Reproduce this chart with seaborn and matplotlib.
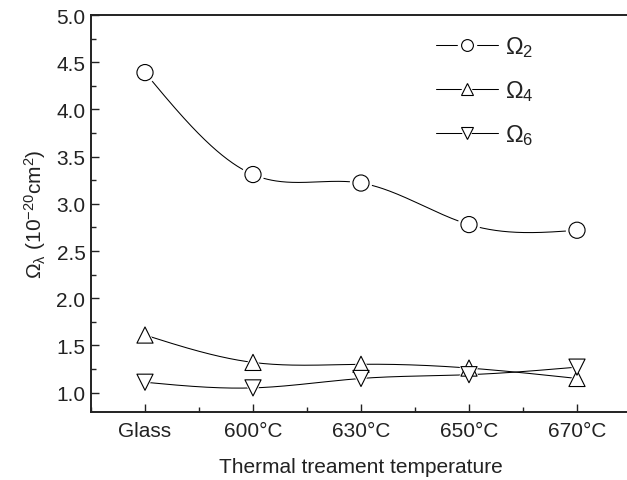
import numpy as np
import pandas as pd
import matplotlib
matplotlib.use("Agg")
import matplotlib.pyplot as plt
import seaborn as sns
from matplotlib.lines import Line2D
from matplotlib.legend_handler import HandlerTuple

categories = ["Glass", "600\u00b0C", "630\u00b0C", "650\u00b0C", "670\u00b0C"]
omega2 = [4.39, 3.31, 3.22, 2.78, 2.72]
omega4 = [1.61, 1.32, 1.30, 1.26, 1.15]
omega6 = [1.11, 1.05, 1.15, 1.19, 1.27]
series_names = [r"$\Omega_2$", r"$\Omega_4$", r"$\Omega_6$"]
series_values = [omega2, omega4, omega6]
series_markers = ["o", "^", "v"]

sns.set_theme(style="ticks")
plt.rcParams["font.family"] = ["Liberation Sans", "DejaVu Sans"]
plt.rcParams["mathtext.fontset"] = "custom"
plt.rcParams["mathtext.rm"] = "Liberation Sans"
plt.rcParams["mathtext.it"] = "Liberation Sans"
plt.rcParams["mathtext.bf"] = "Liberation Sans:bold"

INK = "#222222"


def natural_spline(x, y, xs):
    x = np.asarray(x, float)
    y = np.asarray(y, float)
    n = len(x)
    h = np.diff(x)
    A = np.zeros((n, n))
    b = np.zeros(n)
    A[0, 0] = 1
    A[-1, -1] = 1
    for i in range(1, n - 1):
        A[i, i - 1] = h[i - 1]
        A[i, i] = 2 * (h[i - 1] + h[i])
        A[i, i + 1] = h[i]
        b[i] = 3 * ((y[i + 1] - y[i]) / h[i] - (y[i] - y[i - 1]) / h[i - 1])
    c = np.linalg.solve(A, b)
    out = np.empty_like(xs)
    for k, xv in enumerate(xs):
        i = min(max(np.searchsorted(x, xv) - 1, 0), n - 2)
        dx = xv - x[i]
        bi = (y[i + 1] - y[i]) / h[i] - h[i] * (2 * c[i] + c[i + 1]) / 3
        di = (c[i + 1] - c[i]) / (3 * h[i])
        out[k] = y[i] + bi * dx + c[i] * dx ** 2 + di * dx ** 3
    return out


fig = plt.figure(figsize=(6.27, 4.81), dpi=100)
ax = fig.add_axes([91 / 627, 1 - 412.5 / 481, 540 / 627, (412.5 - 16) / 481])

xpos = np.arange(len(categories))
rows = []
for name, vals in zip(series_names, series_values):
    for xp, v in zip(xpos, vals):
        rows.append({"x": xp, "y": v, "series": name})
df = pd.DataFrame(rows)

xs = np.linspace(0, len(categories) - 1, 400)
for name, vals in zip(series_names, series_values):
    ys = natural_spline(xpos, vals, xs)
    sns.lineplot(x=xs, y=ys, ax=ax, color="black", lw=0.75, zorder=2, legend=False)

marker_map = dict(zip(series_names, series_markers))
# white halos create the small gaps between curves and markers
sns.scatterplot(data=df, x="x", y="y", style="series", markers=marker_map,
                s=260, color="white", edgecolor="white", linewidth=0, ax=ax,
                legend=False, zorder=3)
sns.scatterplot(data=df, x="x", y="y", style="series", markers=marker_map,
                s=135, facecolor="white", edgecolor="black", linewidth=0.8, ax=ax,
                legend=False, zorder=4)

ax.set_xlim(-0.5, 4.5)
ax.set_ylim(0.8, 5.0)
ax.set_xticks(xpos)
ax.set_xticklabels(categories)
ax.set_xticks(np.arange(-0.5, 4.6, 1.0), minor=True)
ax.set_yticks(np.arange(1.0, 5.01, 0.5))
ax.set_yticks(np.arange(1.25, 5.0, 0.5), minor=True)
ax.yaxis.set_major_formatter(matplotlib.ticker.FormatStrFormatter("%.1f"))
ax.tick_params(axis="both", which="major", direction="in", length=6, width=1.0,
               labelsize=15, pad=4, color=INK, labelcolor=INK)
ax.tick_params(axis="x", which="major", pad=7)
ax.tick_params(axis="both", which="minor", direction="in", length=3.5, width=1.0,
               color=INK)
for side in ["left", "bottom", "top"]:
    ax.spines[side].set_linewidth(1.4)
    ax.spines[side].set_color(INK)
ax.spines["right"].set_visible(False)

ax.set_xlabel("Thermal treament temperature", fontsize=15, color=INK, labelpad=12)
ax.set_ylabel(r"$\Omega_\lambda$ (10$^{-20}$cm$^2$)", fontsize=15, color=INK, labelpad=6)

handles = []
for m in series_markers:
    line = Line2D([], [], color="black", lw=0.75)
    halo = Line2D([], [], linestyle="none", marker=m, markersize=14,
                  markerfacecolor="white", markeredgecolor="white", markeredgewidth=0)
    mk = Line2D([], [], linestyle="none", marker=m, markersize=8.5,
                markerfacecolor="white", markeredgecolor="black", markeredgewidth=0.8)
    handles.append((line, halo, mk))
leg = fig.legend(handles, series_names, loc="upper left",
                 bbox_to_anchor=(424 / 627, 1 - 23 / 481), frameon=False,
                 fontsize=17, handlelength=2.65, handletextpad=0.3,
                 labelspacing=0.82, borderpad=0, numpoints=1,
                 handler_map={tuple: HandlerTuple(ndivide=1, pad=0)})
for t in leg.get_texts():
    t.set_color(INK)

fig.savefig("out.png", dpi=100, facecolor="white")
